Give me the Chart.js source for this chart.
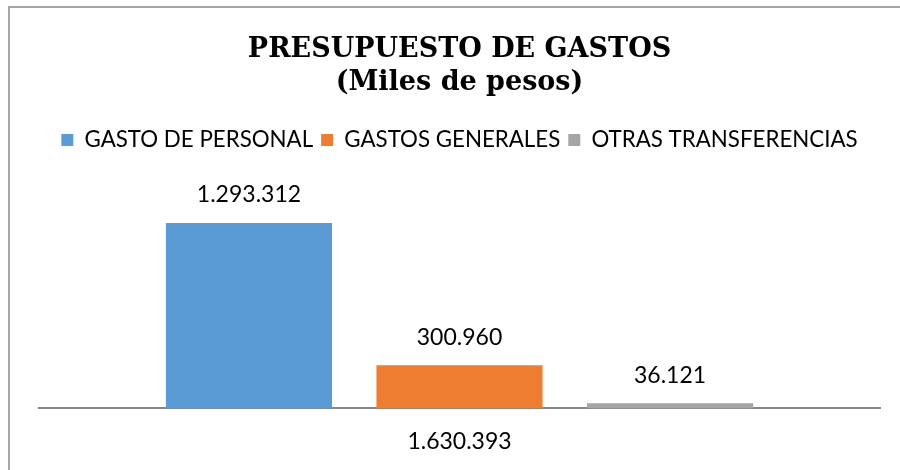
<!DOCTYPE html>
<html>
<head>
<meta charset="utf-8">
<script src="https://cdn.jsdelivr.net/npm/chart.js@4.4.1/dist/chart.umd.min.js"></script>
<style>
  html, body { margin: 0; padding: 0; background: #fff; overflow: hidden; }
  #wrap { position: absolute; left: 0; top: 0; width: 900px; height: 470px; }
  #frame { position: absolute; left: 8px; top: 6px; width: 1000px; height: 600px;
           border-left: 2px solid #a6a6a6; border-top: 2px solid #a6a6a6; }
  canvas { position: absolute; left: 0; top: 0; }
</style>
</head>
<body>
<div id="wrap">
  <div id="frame"></div>
  <canvas id="c" width="900" height="470"></canvas>
</div>
<script>
const categories = ['1.630.393'];
const seriesNames = ['GASTO DE PERSONAL', 'GASTOS GENERALES', 'OTRAS TRANSFERENCIAS'];
const gastoPersonal = [1293312];
const gastosGenerales = [300960];
const otrasTransferencias = [36121];
const seriesColors = ['#5b9bd5', '#ed7d31', '#a5a5a5'];
const titleLines = ['PRESUPUESTO DE GASTOS', '(Miles de pesos)'];

const fmt = v => v.toLocaleString('de-DE');
const FONT = 'Lato, "Open Sans", sans-serif';

const valueLabels = {
  id: 'valueLabels',
  afterDatasetsDraw(chart) {
    const ctx = chart.ctx;
    ctx.save();
    ctx.font = '23px ' + FONT;
    ctx.fillStyle = '#000';
    ctx.textAlign = 'center';
    ctx.textBaseline = 'middle';
    chart.data.datasets.forEach((ds, i) => {
      const meta = chart.getDatasetMeta(i);
      meta.data.forEach((bar, j) => {
        ctx.fillText(fmt(ds.data[j]), bar.x, bar.y - 28);
      });
    });
    ctx.restore();
  }
};

const seriesData = [gastoPersonal, gastosGenerales, otrasTransferencias];

new Chart(document.getElementById('c'), {
  type: 'bar',
  data: {
    labels: categories,
    datasets: seriesNames.map((n, i) => ({
      label: n,
      data: seriesData[i],
      backgroundColor: seriesColors[i],
      borderWidth: 0,
      categoryPercentage: 0.751,
      barPercentage: 0.789
    }))
  },
  options: {
    responsive: false,
    animation: false,
    layout: { padding: { left: 39, right: 20, top: 34, bottom: 4 } },
    plugins: {
      title: {
        display: true,
        text: titleLines,
        color: '#000',
        font: { family: '"DejaVu Serif", serif', size: 27, weight: 'bold', lineHeight: 1.22 },
        padding: { top: 0, bottom: 21 }
      },
      legend: {
        display: true,
        position: 'top',
        labels: {
          color: '#000',
          font: { family: FONT, size: 22.3 },
          boxWidth: 12,
          boxHeight: 12,
          padding: 8
        }
      },
      tooltip: { enabled: false }
    },
    scales: {
      x: {
        grid: { display: false },
        border: { display: true, color: '#878787', width: 2 },
        ticks: { color: '#000', font: { family: FONT, size: 23 }, padding: 11 }
      },
      y: {
        display: false,
        min: 0,
        max: 1725000
      }
    }
  },
  plugins: [valueLabels]
});
</script>
</body>
</html>
